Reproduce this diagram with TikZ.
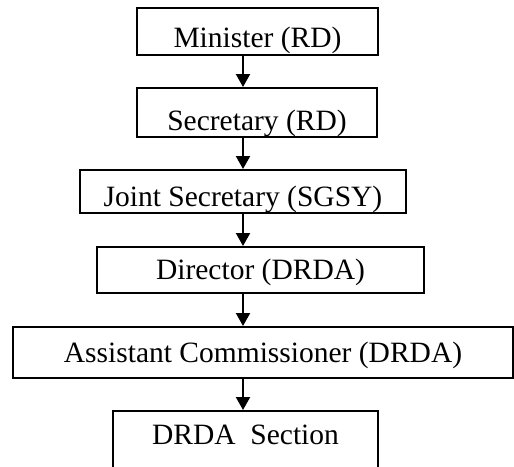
\documentclass[tikz,border=0pt]{standalone}
\usepackage{fontspec}
\setmainfont{Liberation Serif}
\usetikzlibrary{arrows.meta}

\begin{document}
\begin{tikzpicture}[x=1pt, y=-1pt,
        box/.style={draw, line width=2pt, inner sep=0pt, font=\fontsize{29.5}{35}\selectfont},
        arrow/.style={line width=2.2pt, -{Triangle[width=14pt, length=13pt]}}]
            \useasboundingbox (0,0) rectangle (514,466);
            \clip (0,0) rectangle (514,466);
            \coordinate (axis) at (243,0);

            \node[box, minimum width=241pt, text height=39pt, text depth=8pt] at (257.5, 31.5) (minister) {Minister (RD)};
            \node[box, minimum width=240pt, text height=42pt, text depth=7pt] at (257, 112.5) (secretary) {Secretary (RD)};
            \node[box, minimum width=326pt, text height=36pt, text depth=7pt] at (243, 191.5) (jointsec) {Joint Secretary (SGSY)};
            \node[box, minimum width=327pt, text height=32pt, text depth=14pt] at (260.5, 270) (director) {Director (DRDA)};
            \node[box, minimum width=500pt, text height=35pt, text depth=16pt] at (263, 352.5) (asstcomm) {Assistant Commissioner (DRDA)};
            \node[box, minimum width=265pt, text height=33pt, text depth=36pt] at (245.5, 445.5) (section) {DRDA\ \ Section};

            \draw[arrow] (minister.south -| axis) -- (secretary.north -| axis);
            \draw[arrow] (secretary.south -| axis) -- (jointsec.north -| axis);
            \draw[arrow] (jointsec.south -| axis) -- (director.north -| axis);
            \draw[arrow] (director.south -| axis) -- (asstcomm.north -| axis);
            \draw[arrow] (asstcomm.south -| axis) -- (section.north -| axis);
        \end{tikzpicture}
\end{document}
